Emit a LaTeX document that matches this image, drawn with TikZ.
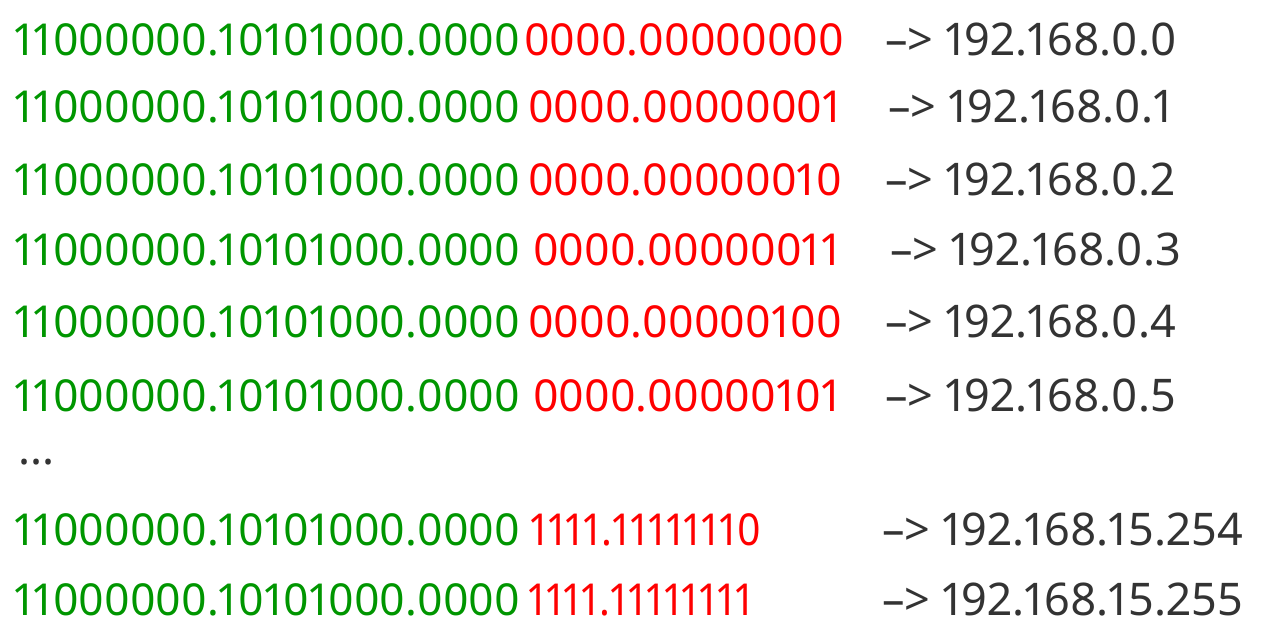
\documentclass[tikz,border=0pt]{standalone}
\usepackage{fontspec}
\setmainfont[Numbers=Proportional]{Noto Sans}
\definecolor{bitgreen}{RGB}{0,150,0}
\definecolor{bitred}{RGB}{255,0,0}
\definecolor{ipgray}{RGB}{51,51,51}
\begin{document}
\begin{tikzpicture}[x=1pt,y=1pt,
  txt/.style={anchor=base west,inner sep=0pt,font=\fontsize{44}{50}\selectfont},
  net/.style={txt,text=bitgreen},
  host/.style={txt,text=bitred},
  ip/.style={txt,text=ipgray,font=\fontsize{45}{50}\selectfont}]
\useasboundingbox[fill=white] (0,0) rectangle (1261,631);
% row baselines (from top): 56,123,196,266,338,412,546,616
\node[net] (n1) at (14,575) {11000000.10101000.0000};
\node[host] (h1) at (524,575) {0000.00000000};
\node[ip] (a1) at (885,575) {–> 192.168.0.0};
\node[net] (n2) at (14,508) {11000000.10101000.0000};
\node[host] (h2) at (528,508) {0000.00000001};
\node[ip] (a2) at (888,508) {–> 192.168.0.1};
\node[net] (n3) at (14,435) {11000000.10101000.0000};
\node[host] (h3) at (528,435) {0000.00000010};
\node[ip] (a3) at (885,435) {–> 192.168.0.2};
\node[net] (n4) at (14,365) {11000000.10101000.0000};
\node[host] (h4) at (533,365) {0000.00000011};
\node[ip] (a4) at (890,365) {–> 192.168.0.3};
\node[net] (n5) at (14,293) {11000000.10101000.0000};
\node[host] (h5) at (528,293) {0000.00000100};
\node[ip] (a5) at (885,293) {–> 192.168.0.4};
\node[net] (n6) at (14,219) {11000000.10101000.0000};
\node[host] (h6) at (533,219) {0000.00000101};
\node[ip] (a6) at (885,219) {–> 192.168.0.5};
\node[ip] (dots) at (18,166) {...};
\node[net] (n8) at (14,85) {11000000.10101000.0000};
\node[host] (h8) at (530,85) {\scalebox{0.92}[1]{1111.11111110}};
\node[ip] (a8) at (882,85) {–> 192.168.15.254};
\node[net] (n9) at (14,15) {11000000.10101000.0000};
\node[host] (h9) at (528,15) {\scalebox{0.92}[1]{1111.11111111}};
\node[ip] (a9) at (882,15) {–> 192.168.15.255};
\end{tikzpicture}
\end{document}
